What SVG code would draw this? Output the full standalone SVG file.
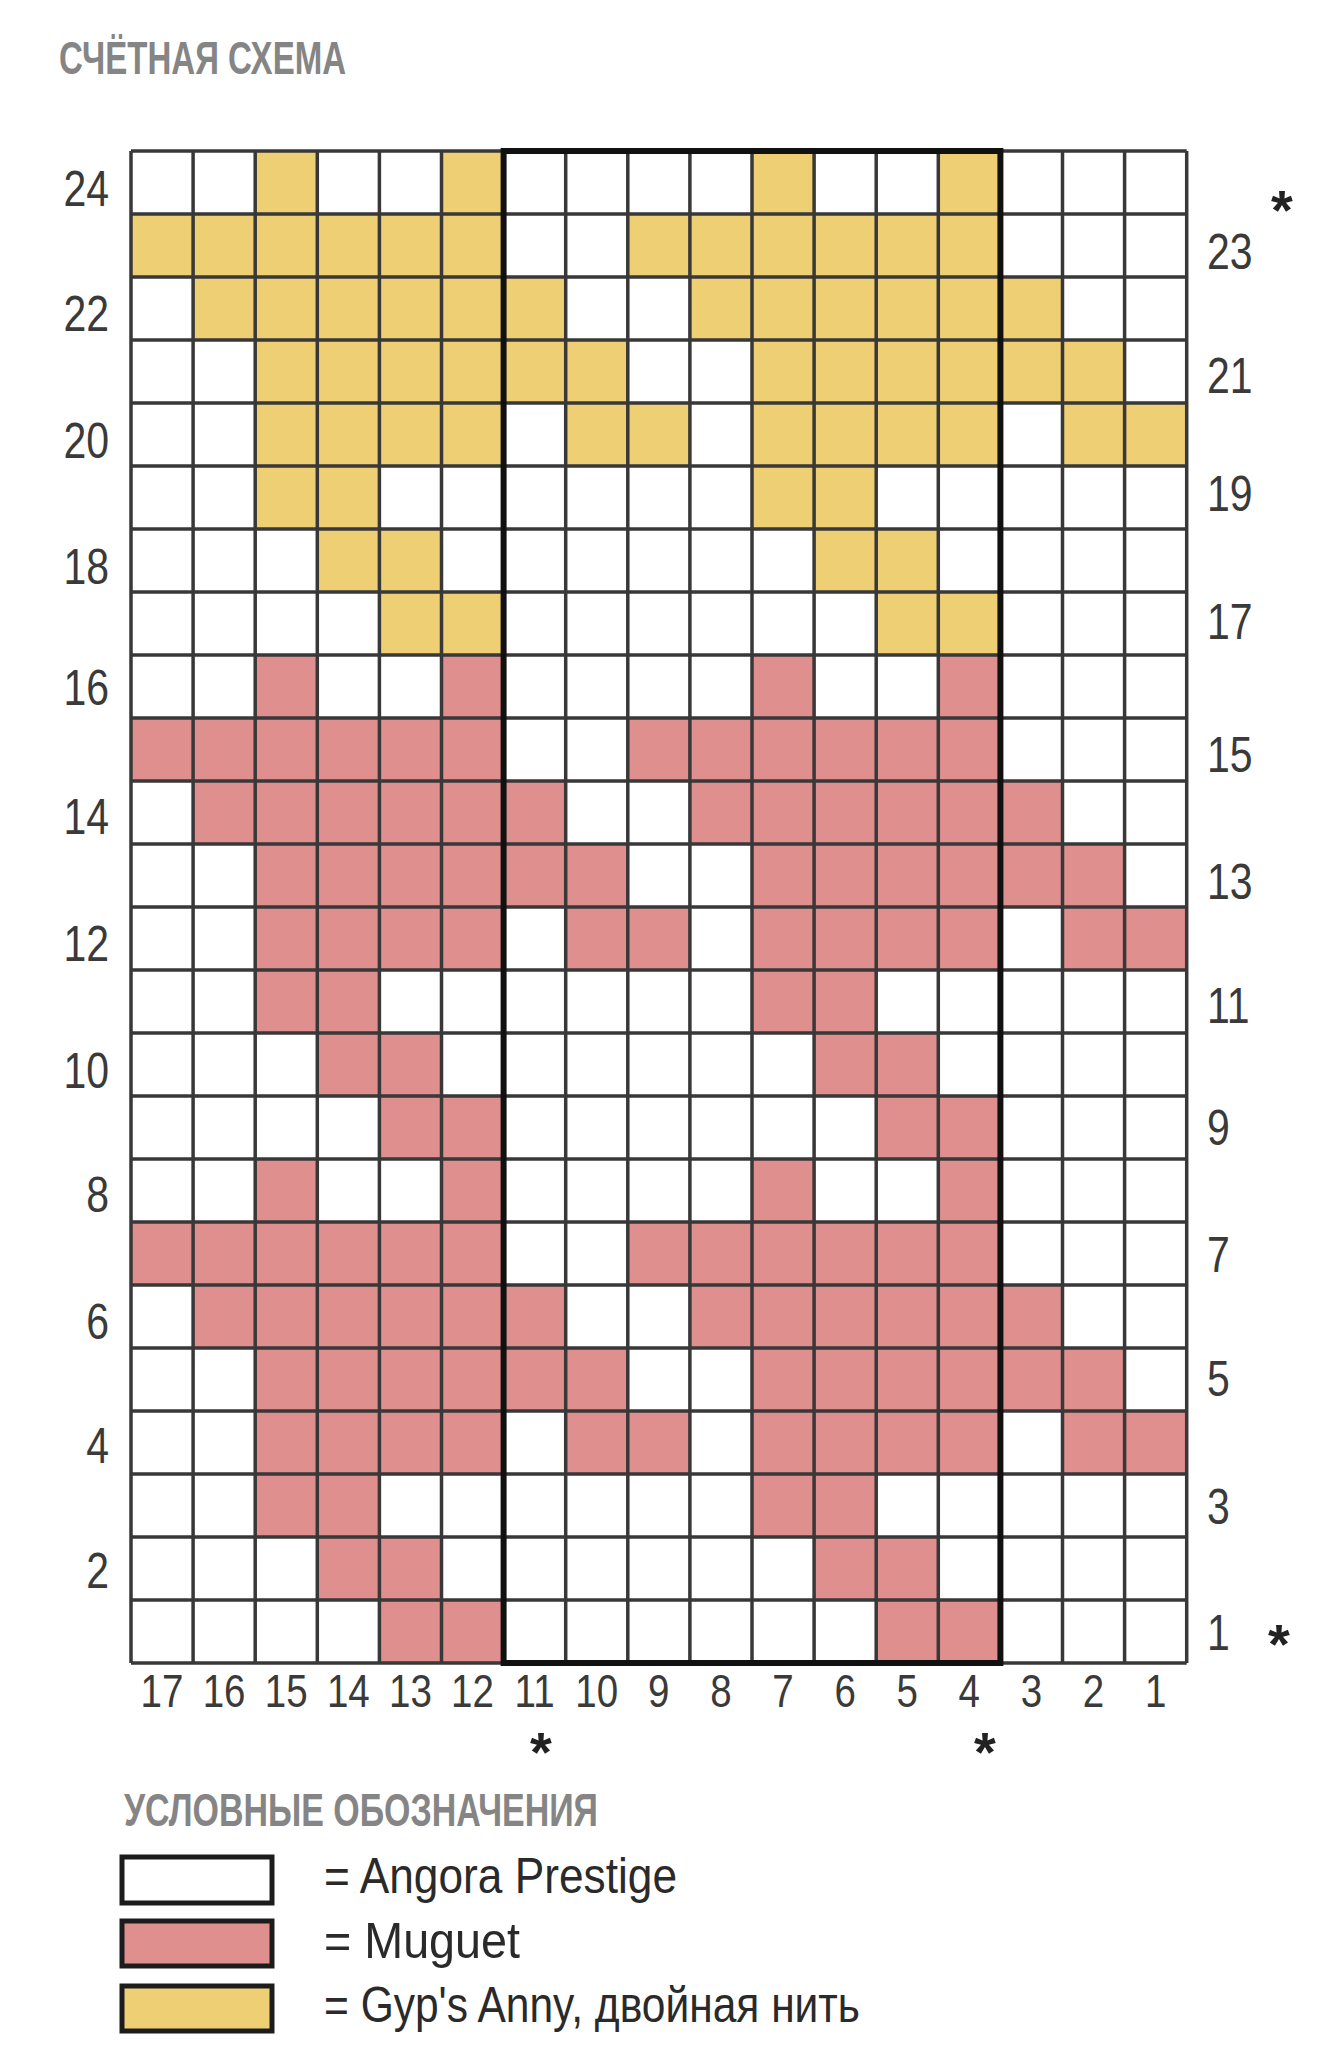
<svg xmlns="http://www.w3.org/2000/svg" xmlns:xlink="http://www.w3.org/1999/xlink" width="1322" height="2048" viewBox="0 0 1322 2048">
<style>
.hd{font-family:"Liberation Sans",Arial,sans-serif;font-weight:bold;fill:#858585;font-size:46px}
.num{font-family:"Liberation Sans",Arial,sans-serif;fill:#3a3a3a;font-size:50px}
.cn{font-family:"Liberation Sans",Arial,sans-serif;fill:#3a3a3a;font-size:47px;text-anchor:middle}
.ast{font-family:"Liberation Sans",Arial,sans-serif;font-weight:bold;fill:#222;font-size:56px;text-anchor:middle}
.lg{font-family:"Liberation Sans",Arial,sans-serif;fill:#2a2a2a;font-size:50px}
.grid{fill:none;stroke:#383838;stroke-width:3.5}
.bold{fill:none;stroke:#111;stroke-width:6}
.box{stroke:#1c1c1c;stroke-width:5}
</style>
<defs>
<g id="motif">
<rect x="255.2" y="0" width="62.1" height="63"/>
<rect x="441.5" y="0" width="62.1" height="63"/>
<rect x="752" y="0" width="62.1" height="63"/>
<rect x="938.3" y="0" width="62.1" height="63"/>
<rect x="131" y="63" width="372.6" height="63"/>
<rect x="627.8" y="63" width="372.6" height="63"/>
<rect x="193.1" y="126" width="372.6" height="63"/>
<rect x="689.9" y="126" width="372.6" height="63"/>
<rect x="255.2" y="189" width="372.6" height="63"/>
<rect x="752" y="189" width="372.6" height="63"/>
<rect x="255.2" y="252" width="248.4" height="63"/>
<rect x="565.7" y="252" width="124.2" height="63"/>
<rect x="752" y="252" width="248.4" height="63"/>
<rect x="1062.5" y="252" width="124.2" height="63"/>
<rect x="255.2" y="315" width="124.2" height="63"/>
<rect x="752" y="315" width="124.2" height="63"/>
<rect x="317.3" y="378" width="124.2" height="63"/>
<rect x="814.1" y="378" width="124.2" height="63"/>
<rect x="379.4" y="441" width="124.2" height="63"/>
<rect x="876.2" y="441" width="124.2" height="63"/>
</g>
</defs>
<rect x="0" y="0" width="1322" height="2048" fill="#ffffff"/>
<text class="hd" x="59" y="74" textLength="287" lengthAdjust="spacingAndGlyphs">СЧЁТНАЯ СХЕМА</text>
<g id="chart">
<use xlink:href="#motif" href="#motif" x="0" y="151" fill="#efcf74"/>
<use xlink:href="#motif" href="#motif" x="0" y="655" fill="#df8f8e"/>
<use xlink:href="#motif" href="#motif" x="0" y="1159" fill="#df8f8e"/>
<path class="grid" d="M131 151V1663M193.1 151V1663M255.2 151V1663M317.3 151V1663M379.4 151V1663M441.5 151V1663M503.6 151V1663M565.7 151V1663M627.8 151V1663M689.9 151V1663M752 151V1663M814.1 151V1663M876.2 151V1663M938.3 151V1663M1000.4 151V1663M1062.5 151V1663M1124.6 151V1663M1186.7 151V1663
M131 151H1186.7M131 214H1186.7M131 277H1186.7M131 340H1186.7M131 403H1186.7M131 466H1186.7M131 529H1186.7M131 592H1186.7M131 655H1186.7M131 718H1186.7M131 781H1186.7M131 844H1186.7M131 907H1186.7M131 970H1186.7M131 1033H1186.7M131 1096H1186.7M131 1159H1186.7M131 1222H1186.7M131 1285H1186.7M131 1348H1186.7M131 1411H1186.7M131 1474H1186.7M131 1537H1186.7M131 1600H1186.7M131 1663H1186.7"/>
<rect class="bold" x="503.6" y="151" width="496.8" height="1512"/>
</g>
<g id="row-labels-left" class="num" text-anchor="end">
<text transform="translate(109 206) scale(0.82 1)">24</text>
<text transform="translate(109 331) scale(0.82 1)">22</text>
<text transform="translate(109 458) scale(0.82 1)">20</text>
<text transform="translate(109 584) scale(0.82 1)">18</text>
<text transform="translate(109 705) scale(0.82 1)">16</text>
<text transform="translate(109 834) scale(0.82 1)">14</text>
<text transform="translate(109 961) scale(0.82 1)">12</text>
<text transform="translate(109 1088) scale(0.82 1)">10</text>
<text transform="translate(109 1212) scale(0.82 1)">8</text>
<text transform="translate(109 1339) scale(0.82 1)">6</text>
<text transform="translate(109 1463) scale(0.82 1)">4</text>
<text transform="translate(109 1588) scale(0.82 1)">2</text>
</g>
<g id="row-labels-right" class="num">
<text transform="translate(1207 269) scale(0.82 1)">23</text>
<text transform="translate(1207 393) scale(0.82 1)">21</text>
<text transform="translate(1207 511) scale(0.82 1)">19</text>
<text transform="translate(1207 639) scale(0.82 1)">17</text>
<text transform="translate(1207 772) scale(0.82 1)">15</text>
<text transform="translate(1207 899) scale(0.82 1)">13</text>
<text transform="translate(1207 1023) scale(0.82 1)">11</text>
<text transform="translate(1207 1145) scale(0.82 1)">9</text>
<text transform="translate(1207 1272) scale(0.82 1)">7</text>
<text transform="translate(1207 1396) scale(0.82 1)">5</text>
<text transform="translate(1207 1524) scale(0.82 1)">3</text>
<text transform="translate(1207 1650) scale(0.82 1)">1</text>
</g>
<g id="col-labels" class="cn">
<text transform="translate(162 1707) scale(0.82 1)">17</text>
<text transform="translate(224.1 1707) scale(0.82 1)">16</text>
<text transform="translate(286.2 1707) scale(0.82 1)">15</text>
<text transform="translate(348.3 1707) scale(0.82 1)">14</text>
<text transform="translate(410.4 1707) scale(0.82 1)">13</text>
<text transform="translate(472.5 1707) scale(0.82 1)">12</text>
<text transform="translate(534.6 1707) scale(0.82 1)">11</text>
<text transform="translate(596.7 1707) scale(0.82 1)">10</text>
<text transform="translate(658.8 1707) scale(0.82 1)">9</text>
<text transform="translate(720.9 1707) scale(0.82 1)">8</text>
<text transform="translate(783 1707) scale(0.82 1)">7</text>
<text transform="translate(845.1 1707) scale(0.82 1)">6</text>
<text transform="translate(907.2 1707) scale(0.82 1)">5</text>
<text transform="translate(969.3 1707) scale(0.82 1)">4</text>
<text transform="translate(1031.4 1707) scale(0.82 1)">3</text>
<text transform="translate(1093.5 1707) scale(0.82 1)">2</text>
<text transform="translate(1155.6 1707) scale(0.82 1)">1</text>
</g>
<g id="asterisks" class="ast">
<text x="1282" y="229">*</text>
<text x="1279" y="1663">*</text>
<text x="541" y="1771">*</text>
<text x="985" y="1771">*</text>
</g>
<g id="legend">
<text class="hd" x="124" y="1826" textLength="474" lengthAdjust="spacingAndGlyphs">УСЛОВНЫЕ ОБОЗНАЧЕНИЯ</text>
<g id="legend-angora">
<rect class="box" x="122" y="1857" width="150" height="46" fill="#ffffff"/>
<text class="lg" x="324" y="1893" textLength="353" lengthAdjust="spacingAndGlyphs">= Angora Prestige</text>
</g>
<g id="legend-muguet">
<rect class="box" x="122" y="1921" width="150" height="45" fill="#df8f8e"/>
<text class="lg" x="324" y="1958" textLength="196" lengthAdjust="spacingAndGlyphs">= Muguet</text>
</g>
<g id="legend-gyps">
<rect class="box" x="122" y="1986" width="150" height="45" fill="#efcf74"/>
<text class="lg" x="324" y="2022" textLength="536" lengthAdjust="spacingAndGlyphs">= Gyp's Anny, двойная нить</text>
</g>
</g>
</svg>
